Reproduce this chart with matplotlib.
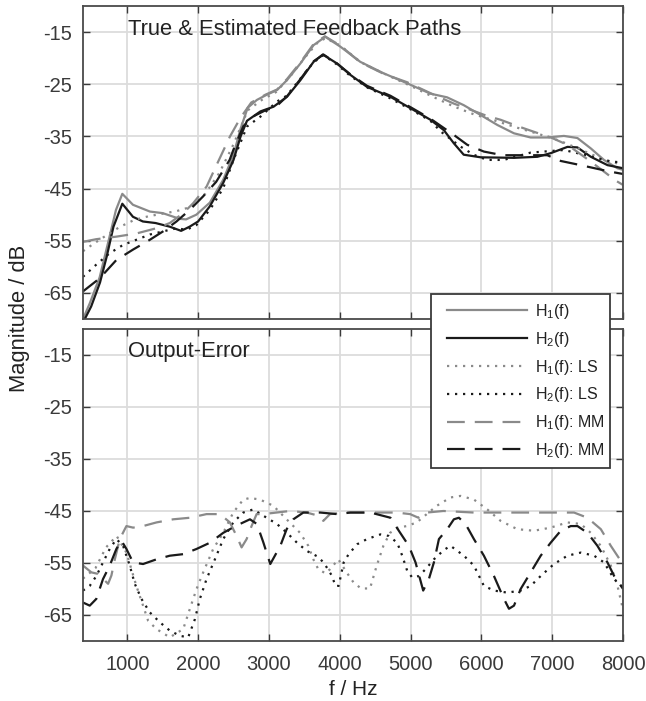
import numpy as np
import matplotlib
matplotlib.use("Agg")
import matplotlib.pyplot as plt
from matplotlib.lines import Line2D
from matplotlib.legend_handler import HandlerLine2D

plt.rcParams['font.family'] = ['Liberation Sans', 'DejaVu Sans']
plt.rcParams['mathtext.default'] = 'regular'
plt.rcParams['axes.unicode_minus'] = False

# ---- top panel: true & estimated feedback paths (f in Hz, magnitude in dB)
f_h1 = [375, 470, 610, 750, 840, 930, 1080, 1320, 1500, 1740, 1830, 1975, 2165, 2355, 2500,
        2600, 2700, 2830, 2970, 3115, 3255, 3445, 3630, 3795, 4010, 4290, 4620, 4950, 5280,
        5515, 5750, 5990, 6225, 6460, 6695, 6930, 7165, 7355, 7545, 7730, 7920, 8000]
h1 = [-70, -67, -62, -54.2, -49.1, -46, -48.1, -49.4, -49.7, -50.8, -50.9, -50.0, -47.7, -43.3, -38.5,
      -33.5, -29.5, -28, -27, -26.1, -24.2, -21.0, -17.5, -15.9, -17.8, -20.7, -22.9, -24.8, -26.8,
      -27.5, -29.0, -30.9, -32.8, -34.4, -35.2, -35.2, -34.9, -35.3, -37.3, -39.5, -41.1, -41.4]

f_h2 = [400, 490, 615, 710, 805, 930, 1080, 1220, 1400, 1600, 1760, 1880, 2000, 2165, 2355, 2500,
        2600, 2690, 2880, 3065, 3255, 3445, 3630, 3760, 3960, 4150, 4385, 4715, 5000, 5280, 5470,
        5610, 5750, 5990, 6460, 6790, 6980, 7215, 7355, 7545, 7780, 8000]
h2 = [-70, -67.6, -63, -58, -52.3, -47.9, -50.4, -51.3, -51.6, -52.3, -53.1, -52.3, -51.3, -48.4, -43.9, -39.5,
      -35, -32, -30.2, -29.3, -27.4, -24.2, -20.7, -19.3, -21.0, -23.2, -25.5, -27.4, -29.6, -31.8, -33.8,
      -36.3, -38.5, -39.0, -39.1, -38.9, -38.2, -37.0, -37.1, -38.9, -40.5, -41.1]

f_h1_ls = [375, 500, 700, 900, 1100, 1300, 1500, 1700, 1900, 2100, 2300, 2500, 2700, 2900, 3100,
           3300, 3500, 3700, 3800, 4000, 4300, 4600, 5000, 5300, 5600, 5900, 6200, 6500, 6800, 7100,
           7400, 7700, 8000]
h1_ls = [-57, -55.8, -54, -52.3, -51, -50.3, -49.8, -49.3, -48.5, -46, -42, -36.5, -30, -28, -26.5,
         -23.5, -20, -16.8, -16.2, -17.5, -20.8, -22.8, -25.3, -27.3, -29.2, -30.8, -32, -33.3, -34.5, -35.8,
         -37.5, -39.3, -40.5]

f_h2_ls = [375, 560, 750, 940, 1130, 1320, 1505, 1695, 1835, 1975, 2165, 2355, 2500, 2690, 2880,
           3115, 3250, 3445, 3630, 3770, 3960, 4150, 4400, 4700, 5000, 5280, 5430, 5700, 5890, 6080,
           6315, 6695, 6880, 7165, 7450, 7640, 7825, 8000]
h2_ls = [-61.9, -59.6, -57.4, -55.8, -54.8, -53.8, -53.2, -52.6, -52.9, -52.0, -49.1, -44.9, -39.5, -33.1, -31.2,
         -28.3, -27.2, -23.9, -20.8, -19.4, -21.2, -23.4, -25.7, -27.6, -29.8, -32.0, -34.1, -36.9, -38.5, -39.5,
         -39.5, -38.1, -37.9, -37.6, -38.5, -39.2, -39.8, -40.0]

f_h1_mm = [375, 560, 850, 1130, 1410, 1600, 1790, 1930, 2120, 2260, 2450, 2595, 2750, 2950, 3115,
           3255, 3445, 3630, 3790, 4010, 4290, 4620, 4950, 5280, 5610, 5850, 6085, 6270, 6505, 6740,
           6980, 7215, 7450, 7640, 7900, 8000]
h1_mm = [-55.2, -54.7, -54.2, -53.6, -52.6, -51.6, -49.7, -47.8, -44.6, -40.5, -35, -31.5, -28.5, -27, -26,
         -24, -20.8, -17.3, -15.8, -17.6, -20.8, -23.0, -24.6, -26.7, -28.7, -29.9, -31.1, -31.8, -33, -34.1,
         -35.2, -36.6, -38.9, -40.8, -43.5, -44.3]

f_h2_mm = [375, 610, 845, 1080, 1320, 1505, 1695, 1880, 2070, 2255, 2445, 2500, 2640, 2800, 2950,
           3100, 3255, 3445, 3630, 3770, 3960, 4150, 4385, 4715, 5000, 5280, 5610, 5800, 6035, 6300,
           6650, 6930, 7120, 7400, 7800, 8000]
h2_mm = [-64.7, -62.2, -58.7, -56.7, -54.8, -53.2, -51.3, -49.1, -46.5, -43.7, -39.5, -37.5, -33, -31, -30,
         -29.3, -27.3, -24, -20.6, -19.3, -21, -23.1, -25.3, -27.2, -29.4, -31.6, -34.7, -36.6, -37.9, -38.6,
         -38.6, -38.6, -39.7, -40.5, -41.7, -42.2]

# ---- bottom panel: output-error
f_e1_mm = [375, 493, 588, 729, 776, 824, 894, 965, 988, 1082, 1223, 1412, 1648, 1884, 2119, 2308,
           2449, 2543, 2614, 2685, 2755, 2826, 2920, 3107, 3297, 3531, 3697, 3768, 3862, 4097, 4333,
           4804, 4993, 5111, 5228, 5464, 5894, 6366, 6837, 7308, 7497, 7686, 7827, 7968, 8000]
e1_mm = [-55.5, -56.8, -57.1, -59.0, -57.4, -54.3, -50.4, -48.5, -47.9, -48.2, -47.9, -47.2, -46.6, -46.3, -45.6, -45.6,
         -47.2, -49.8, -52.0, -50.4, -47.9, -45.6, -45.6, -45.3, -45, -45.3, -45.9, -46.9, -45.6, -45.3, -45.3,
         -45.3, -45.6, -46.3, -45.3, -45.0, -45.3, -45.3, -45.3, -45.3, -46.3, -48.5, -51.7, -54.6, -55.5]

f_e1_ls = [375, 550, 700, 850, 988, 1128, 1223, 1294, 1412, 1600, 1790, 1884, 1978, 2072, 2213, 2355,
           2496, 2638, 2732, 2873, 3062, 3250, 3439, 3556, 3627, 3697, 3800, 3862, 3980, 4097, 4192,
           4300, 4427, 4522, 4616, 4710, 4827, 4946, 5087, 5228, 5370, 5564, 5706, 5894, 6083, 6271,
           6507, 6742, 6978, 7214, 7403, 7544, 7685, 7827, 7921, 8000]
e1_ls = [-58, -56, -52, -49.8, -53, -59.4, -63.2, -66.1, -67.7, -69.3, -67.7, -63.8, -60, -56.8, -52.3, -49.2,
         -45.3, -42.8, -42.5, -42.8, -44, -46.6, -49.2, -51.7, -54.3, -56.2, -57, -56.2, -54.3, -56.8, -58.7,
         -59.9, -59.9, -55.5, -51.7, -49.2, -48.2, -47.9, -47.2, -45.6, -44, -42.4, -42.1, -42.8, -44.7, -46.9,
         -48.5, -48.8, -48.2, -47.2, -47.5, -49.2, -51.7, -55.5, -59.4, -64]

f_e2_ls = [375, 470, 563, 657, 752, 846, 941, 1035, 1106, 1200, 1318, 1460, 1600, 1743, 1860, 1955,
           2025, 2119, 2237, 2355, 2496, 2638, 2779, 2920, 3113, 3255, 3396, 3537, 3679, 3773, 3891,
           3938, 3985, 4055, 4126, 4245, 4386, 4575, 4693, 4811, 4882, 4952, 5023, 5117, 5211, 5329,
           5470, 5564, 5753, 5894, 6035, 6177, 6366, 6554, 6696, 6837, 7025, 7214, 7403, 7591, 7732,
           7874, 8000]
e2_ls = [-60.3, -59.4, -57.5, -54.9, -52.3, -50.4, -51.7, -55.5, -59, -61.9, -64.5, -66.4, -68, -69, -69.3, -65.8,
         -61.9, -58.1, -54.3, -50.4, -47.2, -45.3, -44.7, -45.9, -47.5, -49.2, -51.1, -52.7, -53.7, -54.9, -57.5,
         -59.4, -59.4, -54.9, -53.3, -51.4, -50.4, -49.5, -49.8, -51.1, -53.6, -56.5, -57.8, -57.5, -56.2, -54.3,
         -52.5, -51.7, -53.6, -55.5, -59.4, -60.3, -60.7, -60.3, -59.4, -57.5, -55.2, -53.6, -53.0, -53.6, -54.9,
         -58.1, -59.7]

f_e2_mm = [375, 470, 563, 657, 752, 846, 917, 988, 1082, 1223, 1412, 1600, 1790, 1978, 2167, 2355,
           2543, 2732, 2830, 2920, 3019, 3161, 3250, 3344, 3486, 3726, 3962, 4150, 4433, 4716, 4834,
           4975, 5070, 5140, 5178, 5258, 5329, 5400, 5517, 5611, 5682, 5776, 5894, 6035, 6177, 6318,
           6389, 6460, 6554, 6696, 6837, 6978, 7120, 7261, 7356, 7497, 7638, 7780, 7874, 8000]
e2_mm = [-62.6, -63.2, -61.9, -58.1, -55.5, -52.3, -50.7, -52.3, -54.9, -55.2, -54.3, -53.6, -53.3, -52.3, -51.1, -49.2,
         -47.8, -46.6, -47.5, -51, -55.2, -51.7, -48.5, -46.6, -45.3, -45.3, -45.6, -45.3, -45.3, -46.3, -48.8,
         -51.7, -54.9, -58.4, -60.3, -58.1, -54.9, -50.4, -48.5, -46.6, -46.3, -47.5, -50.4, -53.6, -57.5, -61.9,
         -63.8, -63.2, -60, -56.8, -53.6, -51.1, -48.8, -47.9, -47.9, -49.2, -51.7, -54.9, -57.5, -60]

labels = ['H$_1$(f)', 'H$_2$(f)', 'H$_1$(f): LS', 'H$_2$(f): LS', 'H$_1$(f): MM', 'H$_2$(f): MM']
yticks = [-65, -55, -45, -35, -25, -15]
xticks = [1000, 2000, 3000, 4000, 5000, 6000, 7000, 8000]

gray = '#8a8a8a'
black = '#1a1a1a'
lw = 1.6
dot = (0, (1, 2.6))
dash = (0, (8, 4.5))
styles = [(gray, '-'), (black, '-'), (gray, dot), (black, dot), (gray, dash), (black, dash)]

fig = plt.figure(figsize=(6.46, 7.01), dpi=100)
ax1 = fig.add_axes([0.1285, 0.5449, 0.836, 0.4465])
ax2 = fig.add_axes([0.1285, 0.0856, 0.836, 0.4451])

top = [(f_h1, h1), (f_h2, h2), (f_h1_ls, h1_ls), (f_h2_ls, h2_ls), (f_h1_mm, h1_mm), (f_h2_mm, h2_mm)]
bottom = [(f_e1_ls, e1_ls), (f_e2_ls, e2_ls), (f_e1_mm, e1_mm), (f_e2_mm, e2_mm)]

for (f, v), (c, ls) in zip(top, styles):
    ax1.plot(f, v, color=c, linestyle=ls, lw=lw, dash_capstyle='butt')
for (f, v), (c, ls) in zip(bottom, styles[2:]):
    ax2.plot(f, v, color=c, linestyle=ls, lw=lw, dash_capstyle='butt')

for ax in (ax1, ax2):
    ax.set_xlim(375, 8000)
    ax.set_ylim(-70, -10)
    ax.set_yticks(yticks)
    ax.set_xticks(xticks)
    ax.grid(True, color='#dcdcdc', lw=1.3)
    ax.set_axisbelow(True)
    ax.tick_params(direction='in', length=5, width=1, top=True, right=True,
                   labelsize=14.5, colors='#3a3a3a')
    ax.tick_params(axis='y', pad=8)
    ax.tick_params(axis='x', pad=10)
    for s in ax.spines.values():
        s.set_color('#4a4a4a')
        s.set_linewidth(1.3)
ax1.tick_params(labelbottom=False)

ax1.text(0.083, 0.96, 'True & Estimated Feedback Paths', transform=ax1.transAxes,
         ha='left', va='top', fontsize=15.8, color='#222222')
ax2.text(0.083, 0.96, 'Output-Error', transform=ax2.transAxes,
         ha='left', va='top', fontsize=15.8, color='#222222')

fig.text(0.030, 0.5457, 'Magnitude / dB', rotation=90, ha='center', va='center',
         fontsize=15.8, color='#222222')
fig.text(0.5464, 0.003, 'f / Hz', ha='center', va='bottom', fontsize=15, color='#222222')

handles = [Line2D([], [], color=c, linestyle=ls, lw=lw, dash_capstyle='butt') for c, ls in styles]
leg = fig.legend(handles, labels, loc='upper left',
                 bbox_to_anchor=(431 / 646, 1 - 294 / 701 - 0.01, 179 / 646, 0.01), mode='expand',
                 borderaxespad=0, fontsize=11.5, handlelength=5.5, handletextpad=0.5,
                 labelspacing=0.55, borderpad=0.5, fancybox=False, framealpha=1,
                 edgecolor='#3a3a3a', handler_map={Line2D: HandlerLine2D(xpad=0.5)})
leg.get_frame().set_linewidth(1.3)
for t in leg.get_texts():
    t.set_color('#222222')

fig.savefig('out.png', dpi=100)
